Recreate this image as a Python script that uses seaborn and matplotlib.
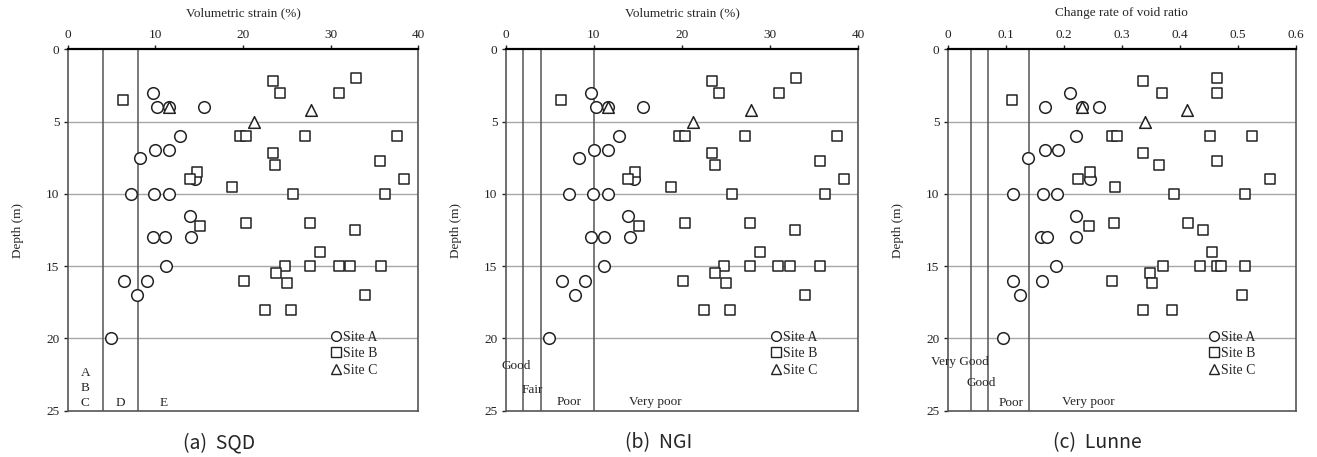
import numpy as np
import pandas as pd
import matplotlib
matplotlib.use("Agg")
import matplotlib.pyplot as plt
from matplotlib.lines import Line2D
import seaborn as sns

# depths (m) shared by every panel
depth_a = [3, 4, 4, 4, 6, 7, 7, 7.5, 9, 10, 10, 10, 11.5, 13, 13, 13, 15, 16, 16, 17, 20]
depth_b = [2.0, 2.2, 3.0, 3.0, 3.5, 6, 6, 6, 6, 7.2, 7.7, 8.0, 8.5, 9.0, 9.0, 9.5, 10, 10,
           12, 12, 12.2, 12.5, 14, 15, 15, 15, 15, 15, 15.5, 16, 16.2, 17, 18, 18]
depth_c = [4.0, 4.2, 5.0]

# volumetric strain (%) - used for SQD and NGI
strain_a = [9.7, 10.2, 11.6, 15.6, 12.8, 10.0, 11.6, 8.3, 14.5, 7.2, 9.9, 11.6, 13.9,
            9.7, 11.1, 14.1, 11.2, 6.4, 9.0, 7.9, 4.9]
strain_b = [32.9, 23.4, 24.2, 31.0, 6.3, 19.7, 20.3, 27.1, 37.6, 23.4, 35.6, 23.7, 14.7,
            13.9, 38.4, 18.8, 25.7, 36.2, 20.3, 27.7, 15.1, 32.8, 28.8, 24.8, 27.7, 30.9,
            32.2, 35.7, 23.8, 20.1, 25.0, 33.9, 22.5, 25.5]
strain_c = [11.6, 27.8, 21.3]

# change rate of void ratio - used for Lunne
void_a = [0.211, 0.168, 0.231, 0.261, 0.221, 0.167, 0.191, 0.139, 0.245, 0.113, 0.164,
          0.188, 0.221, 0.161, 0.172, 0.222, 0.187, 0.113, 0.163, 0.125, 0.096]
void_b = [0.464, 0.336, 0.369, 0.465, 0.111, 0.284, 0.292, 0.452, 0.525, 0.337, 0.464,
          0.365, 0.245, 0.224, 0.556, 0.288, 0.391, 0.512, 0.286, 0.415, 0.243, 0.441,
          0.456, 0.372, 0.435, 0.464, 0.472, 0.512, 0.349, 0.284, 0.353, 0.507, 0.336, 0.387]
void_c = [0.231, 0.412, 0.341]

sites = ["Site A", "Site B", "Site C"]
site_markers = {"Site A": "o", "Site B": "s", "Site C": "^"}

# classification boundaries and zone labels
sqd_lines = [4, 8]
sqd_zones = [("A\nB\nC", 2, 24.85), ("D", 6, 24.85), ("E", 11, 24.85)]
ngi_lines = [2, 4, 10]
ngi_zones = [("Good", -0.5, 21.9, "left"), ("Fair", 3.0, 23.6, "center"),
             ("Poor", 7.2, 24.4, "center"), ("Very poor", 17, 24.4, "center")]
lunne_lines = [0.04, 0.07, 0.14]
lunne_zones = [("Very Good", 0.021, 21.6, "center"), ("Good", 0.057, 23.1, "center"),
               ("Poor", 0.11, 24.5, "center"), ("Very poor", 0.242, 24.4, "center")]


def make_df(xa, xb, xc):
    rows = []
    for site, xs, ds in zip(sites, [xa, xb, xc], [depth_a, depth_b, depth_c]):
        for x, d in zip(xs, ds):
            rows.append({"site": site, "x": x, "depth": d})
    return pd.DataFrame(rows)


df_strain = make_df(strain_a, strain_b, strain_c)
df_void = make_df(void_a, void_b, void_c)

sns.set_style("white")
plt.rcParams["font.family"] = ["Liberation Serif", "DejaVu Serif"]
plt.rcParams["font.size"] = 9.5

fig = plt.figure(figsize=(13.17, 4.57), dpi=100)
W, H = 1317, 457
bottom, top = 410.7, 49.3
boxes = [(67.7, 418.3), (505.7, 858.3), (947.7, 1295.7)]
axes = [fig.add_axes([l / W, (H - bottom) / H, (r - l) / W, (bottom - top) / H]) for l, r in boxes]


def draw_panel(ax, df, xlim, xticks, xlabel, vlines):
    for d in [5, 10, 15, 20]:
        ax.axhline(d, color="#a8a8a8", lw=1.0, zorder=1)
    for v in vlines:
        ax.axvline(v, color="#555555", lw=1.1, zorder=1)
    for site in sites:
        sns.scatterplot(data=df[df["site"] == site], x="x", y="depth", ax=ax,
                        marker=site_markers[site], s=70 if site != "Site B" else 62,
                        color="white", edgecolor="#222222", linewidth=1.1, zorder=3,
                        legend=False)
    ax.set_xlim(*xlim)
    ax.set_ylim(25, 0)
    ax.set_xticks(xticks)
    ax.set_yticks([0, 5, 10, 15, 20, 25])
    ax.xaxis.tick_top()
    ax.xaxis.set_label_position("top")
    ax.set_xlabel(xlabel, labelpad=9)
    ax.set_ylabel("Depth (m)", labelpad=16)
    ax.tick_params(axis="both", length=3, width=1, direction="out", pad=3,
                   top=True, bottom=False, left=True, colors="#222222")
    for name, sp in ax.spines.items():
        sp.set_color("#555555")
        sp.set_linewidth(1.2)
    ax.spines["top"].set_color("black")
    ax.spines["top"].set_linewidth(1.6)
    handles = [Line2D([], [], ls="", marker=site_markers[s], markersize=7,
                      markerfacecolor="white", markeredgecolor="#222222",
                      markeredgewidth=1.0, label=s) for s in sites]
    ax.legend(handles=handles, loc="lower right", frameon=False, handletextpad=0.0,
              handlelength=1.0, labelspacing=0.25, fontsize=10,
              bbox_to_anchor=(0.92, 0.06))


draw_panel(axes[0], df_strain, (0, 40), [0, 10, 20, 30, 40], "Volumetric strain (%)", sqd_lines)
for txt, x, y in sqd_zones:
    axes[0].text(x, y, txt, ha="center", va="bottom", fontsize=9.5, linespacing=1.3)

draw_panel(axes[1], df_strain, (0, 40), [0, 10, 20, 30, 40], "Volumetric strain (%)", ngi_lines)
for txt, x, y, ha in ngi_zones:
    axes[1].text(x, y, txt, ha=ha, va="center", fontsize=9.5)

draw_panel(axes[2], df_void, (0, 0.6), [0, 0.1, 0.2, 0.3, 0.4, 0.5, 0.6],
           "Change rate of void ratio", lunne_lines)
axes[2].set_xticklabels(["0", "0.1", "0.2", "0.3", "0.4", "0.5", "0.6"])
for txt, x, y, ha in lunne_zones:
    axes[2].text(x, y, txt, ha=ha, va="center", fontsize=9.5)

captions = ["(a)  SQD", "(b)  NGI", "(c)  Lunne"]
for i, cap in enumerate(captions):
    fig.text((i + 0.5) / 3, 1 - 443 / H, cap, ha="center", va="center", fontsize=14,
             family=["Noto Sans CJK KR", "DejaVu Sans"])

fig.savefig("out.png", dpi=100)
